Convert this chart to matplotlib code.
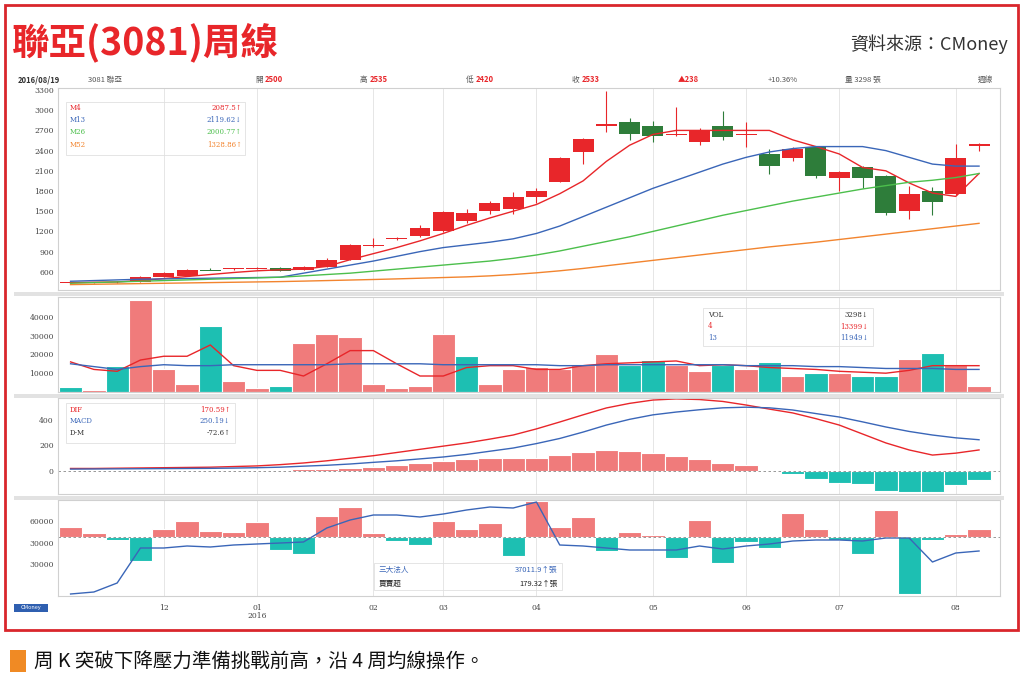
import numpy as np
import matplotlib
matplotlib.use("Agg")
import matplotlib.pyplot as plt
from matplotlib.patches import Rectangle

plt.rcParams['font.family'] = ['Noto Sans CJK TC', 'DejaVu Sans']

W, H = 1024, 683

# weekly candles (40 weeks)
opens = [440, 445, 450, 450, 525, 540, 630, 635, 645, 660, 630, 675, 780, 990, 1095, 1125, 1200, 1350, 1500,
         1530, 1710, 1935, 2385, 2760, 2820, 2760, 2640, 2535, 2760, 2640, 2355, 2295, 2460, 1995, 2160, 2025,
         1500, 1800, 1755, 2475]
closes = [445, 450, 455, 525, 585, 630, 625, 650, 650, 615, 675, 780, 1005, 995, 1100, 1245, 1485, 1470, 1620,
          1710, 1800, 2295, 2580, 2790, 2640, 2610, 2645, 2685, 2595, 2645, 2175, 2430, 2025, 2085, 1995, 1470,
          1755, 1635, 2295, 2505]
highs = [450, 455, 460, 540, 600, 645, 660, 660, 665, 670, 690, 810, 1020, 1095, 1120, 1290, 1500, 1530, 1650,
         1780, 1850, 2300, 2590, 3285, 2880, 2840, 3045, 2730, 2990, 2820, 2420, 2450, 2470, 2100, 2170, 2040,
         1880, 1860, 2500, 2510]
lows = [430, 435, 440, 445, 520, 535, 620, 625, 640, 610, 625, 670, 770, 975, 1080, 1110, 1190, 1320, 1460,
        1460, 1620, 1930, 2200, 2670, 2560, 2530, 2620, 2480, 2560, 2450, 2060, 2250, 2000, 1800, 1850, 1450,
        1390, 1450, 1740, 2400]

ma4 = [440, 445, 450, 470, 500, 530, 560, 590, 615, 630, 640, 680, 780, 870, 960, 1060, 1170, 1290, 1400,
       1500, 1600, 1760, 1950, 2240, 2480, 2640, 2700, 2700, 2700, 2700, 2700, 2560, 2460, 2350, 2150, 2100,
       1920, 1770, 1720, 2060]
ma13 = [460, 470, 480, 490, 495, 500, 505, 510, 515, 520, 580, 640, 700, 760, 830, 900, 960, 1000, 1040,
        1090, 1170, 1280, 1420, 1560, 1700, 1840, 1960, 2080, 2200, 2300, 2380, 2430, 2460, 2460, 2460, 2400,
        2300, 2200, 2170, 2170]
ma26 = [430, 440, 450, 460, 470, 480, 490, 500, 510, 520, 540, 560, 580, 610, 640, 670, 700, 730, 760,
        800, 850, 910, 980, 1050, 1120, 1200, 1280, 1360, 1440, 1510, 1580, 1650, 1710, 1770, 1830, 1880,
        1930, 1960, 2000, 2060]
ma52 = [410, 415, 420, 425, 430, 435, 440, 445, 450, 455, 462, 470, 478, 486, 495, 505, 515, 525, 540,
        560, 585, 615, 650, 690, 730, 770, 810, 850, 890, 930, 970, 1005, 1040, 1080, 1120, 1160, 1200,
        1240, 1280, 1320]

volume = [2700, 1000, 14000, 49000, 12000, 4000, 35000, 6000, 2000, 3000, 26000, 31000, 29000, 4000, 2000,
          3000, 31000, 19000, 4000, 12000, 13500, 12000, 14500, 20000, 14500, 17000, 14500, 11000, 14500,
          12000, 16000, 8500, 10000, 10000, 8500, 8500, 17500, 20500, 14500, 3000]
vol_up = [0, 1, 0, 1, 1, 1, 0, 1, 1, 0, 1, 1, 1, 1, 1, 1, 1, 0, 1, 1, 1, 1, 1, 1, 0, 0, 1, 1, 0, 1, 0, 1,
          0, 1, 0, 0, 1, 0, 1, 1]
vol_ma4 = [16000, 12000, 11000, 17000, 19000, 19000, 25000, 14000, 11500, 11500, 8500, 15000, 22000, 22000,
           15000, 8500, 8500, 13000, 14000, 14000, 12000, 12000, 14000, 15000, 15500, 16000, 16500, 14000,
           14500, 14000, 13000, 12500, 12000, 11000, 10500, 10000, 11500, 14000, 14000, 14000]
vol_ma13 = [15000, 13500, 12000, 13500, 14500, 14000, 14000, 14500, 14500, 14500, 14500, 14500, 15000, 15000,
            15000, 15000, 14500, 14500, 14500, 14500, 14500, 14000, 14000, 14500, 14500, 14500, 14500, 14500,
            14500, 14000, 14000, 14000, 13500, 13500, 13000, 12500, 12500, 12500, 12000, 12000]

dif = [20, 20, 22, 24, 26, 28, 30, 35, 40, 50, 63, 80, 100, 120, 145, 170, 195, 220, 250, 282, 330, 384,
       440, 494, 530, 556, 565, 560, 545, 517, 485, 455, 410, 360, 290, 220, 165, 125, 140, 165]
macd = [15, 16, 17, 18, 19, 20, 21, 23, 26, 30, 38, 45, 55, 68, 80, 95, 110, 130, 155, 180, 215, 255, 305,
        360, 405, 440, 462, 480, 495, 500, 495, 478, 450, 423, 385, 345, 310, 282, 260, 245]
dm = [-2, -2, -1, 1, 3, 5, 5, 6, 7, 8, 12, 14, 22, 35, 50, 62, 80, 92, 100, 103, 105, 128, 150, 168, 160,
      140, 118, 97, 65, 44, -3, -26, -65, -91, -105, -155, -165, -165, -112, -70]

netbuy = [10000, 4000, -3000, -24000, 8000, 16000, 6000, 5000, 15000, -13000, -17000, 21000, 30000, 4000,
          -4000, -8000, 16000, 8000, 14000, -19000, 36000, 10000, 20000, -14000, 5000, 2000, -21000, 17000,
          -26000, -5000, -11000, 24000, 8000, -3000, -17000, 27000, -57000, -3000, 3000, 8000]
inst = [-57000, -55000, -46000, -11000, -11000, -9000, -10000, -8000, -7000, -6000, -5000, 9000, 17000,
        22000, 22000, 20000, 23000, 27000, 30000, 29000, 35000, -8000, -9000, -11000, -13000, -13000, -13000,
        -9000, -12000, -9000, -7000, -4000, -3000, -3000, -4000, -1000, -1000, -25000, -16000, -14000]

month_pos = [4, 8, 13, 16, 20, 25, 29, 33, 38]
month_lab = ['12', '01\n2016', '02', '03', '04', '05', '06', '07', '08']

RED = '#e8262a'
GREEN = '#2e7d3a'
BAR_R = '#f07b7b'
BAR_T = '#1dbfb2'
BLUE = '#3a66b8'
LGREEN = '#4cbf4c'
ORANGE = '#f2842e'

fig = plt.figure(figsize=(W / 100, H / 100), dpi=100)


def rect(x0, y0, x1, y1):
    return [x0 / W, 1 - y1 / H, (x1 - x0) / W, (y1 - y0) / H]


def ftext(x, y, s, **kw):
    fig.text(x / W, 1 - y / H, s, **kw)


# outer frame
fig.patches.append(Rectangle((5 / W, 1 - 630 / H), 1013 / W, 625 / H, transform=fig.transFigure,
                             fill=False, edgecolor='#d9262c', linewidth=2))
# gray separators
for yy in [292, 394, 496]:
    fig.patches.append(Rectangle((14 / W, 1 - (yy + 4) / H), 990 / W, 4 / H, transform=fig.transFigure,
                                 facecolor='#e2e2e2', edgecolor='none'))

ftext(12, 42, '聯亞(3081)周線', fontsize=27, color=RED, fontweight='bold', va='center')
ftext(1008, 44, '資料來源：CMoney', fontsize=13, color='#333333', ha='right', va='center')

hdr = [(18, '2016/08/19', '#333333', None), (88, '3081 聯亞', '#555555', None),
       (255, '開', '#555555', '2500'), (360, '高', '#555555', '2535'), (466, '低', '#555555', '2420'),
       (572, '收', '#555555', '2533'), (678, '', '', '▲238'), (768, '+10.36%', '#555555', None),
       (845, '量 3298 張', '#555555', None), (978, '週線', '#555555', None)]
for x, a, c, b in hdr:
    if a:
        ftext(x, 80, a, fontsize=5.5, color=c, va='center', fontweight='bold' if x == 18 else 'normal')
    if b:
        ftext(x + (10 if a else 0), 80, b, fontsize=5.5, color=RED, va='center', fontweight='bold')

xs = np.arange(len(closes))
XL = (-0.5 - 0.04, 39.5 + 0.4)


def style(ax, yt, yl):
    ax.set_xlim(*XL)
    ax.set_yticks(yt)
    ax.set_yticklabels(yl, fontsize=5.5, color='#444444', family='DejaVu Serif')
    ax.tick_params(axis='y', length=0, pad=3)
    ax.set_xticks(month_pos)
    ax.set_xticklabels([])
    ax.tick_params(axis='x', length=0)
    ax.grid(axis='x', color='#e6e6e6', linewidth=0.7)
    ax.set_axisbelow(True)
    for s in ax.spines.values():
        s.set_color('#d0d0d0')
        s.set_linewidth(0.8)


# price panel
ax1 = fig.add_axes(rect(58, 88, 1000, 290))
for i in xs:
    up = closes[i] >= opens[i]
    c = RED if up else GREEN
    ax1.vlines(i, lows[i], highs[i], color=c, linewidth=0.8)
    lo, hi = min(opens[i], closes[i]), max(opens[i], closes[i])
    ax1.bar(i, max(hi - lo, 12), bottom=lo if hi - lo >= 12 else lo - 6, width=0.9, color=c)
ax1.plot(xs, ma4, color=RED, lw=1)
ax1.plot(xs, ma13, color=BLUE, lw=1)
ax1.plot(xs, ma26, color=LGREEN, lw=1)
ax1.plot(xs, ma52, color=ORANGE, lw=1)
ax1.set_ylim(330, 3330)
pt = list(range(600, 3301, 300))
style(ax1, pt, [str(v) for v in pt])
ax1.add_patch(Rectangle((0.008, 0.67), 0.19, 0.26, transform=ax1.transAxes, fill=False,
                        edgecolor='#e0e0e0', lw=0.6))
for k, (n, v, c) in enumerate([('M4', '2087.5↑', RED), ('M13', '2119.62↓', BLUE),
                               ('M26', '2000.77↑', LGREEN), ('M52', '1328.86↑', ORANGE)]):
    yy = 0.90 - k * 0.06
    ax1.text(0.012, yy, n, transform=ax1.transAxes, fontsize=5, color=c, va='center', family='DejaVu Serif')
    ax1.text(0.195, yy, v, transform=ax1.transAxes, fontsize=5, color=c, va='center', ha='right',
             family='DejaVu Serif')

bar_kw = dict(width=1.0, edgecolor='white', linewidth=0.8)

# volume panel
ax2 = fig.add_axes(rect(58, 297, 1000, 392))
ax2.bar(xs, volume, color=[BAR_R if u else BAR_T for u in vol_up], **bar_kw)
ax2.plot(xs, vol_ma4, color=RED, lw=1)
ax2.plot(xs, vol_ma13, color=BLUE, lw=1)
ax2.set_ylim(0, 50500)
style(ax2, [10000, 20000, 30000, 40000], ['10000', '20000', '30000', '40000'])
ax2.add_patch(Rectangle((0.685, 0.48), 0.18, 0.4, transform=ax2.transAxes, fill=False,
                        edgecolor='#e0e0e0', lw=0.6))
for k, (n, v, c) in enumerate([('VOL', '3298↓', '#333333'), ('4', '13399↓', RED), ('13', '11949↓', BLUE)]):
    yy = 0.81 - k * 0.12
    ax2.text(0.69, yy, n, transform=ax2.transAxes, fontsize=5, color=c, va='center', family='DejaVu Serif')
    ax2.text(0.86, yy, v, transform=ax2.transAxes, fontsize=5, color=c, va='center', ha='right',
             family='DejaVu Serif')

# MACD panel
ax3 = fig.add_axes(rect(58, 398, 1000, 494))
ax3.bar(xs, dm, color=[BAR_R if v >= 0 else BAR_T for v in dm], **bar_kw)
ax3.plot(xs, dif, color=RED, lw=1)
ax3.plot(xs, macd, color=BLUE, lw=1)
ax3.axhline(0, color='#888888', lw=0.6, ls=(0, (3, 3)))
ax3.set_ylim(-180, 572)
style(ax3, [0, 200, 400], ['0', '200', '400'])
ax3.add_patch(Rectangle((0.008, 0.53), 0.18, 0.42, transform=ax3.transAxes, fill=False,
                        edgecolor='#e0e0e0', lw=0.6))
for k, (n, v, c) in enumerate([('DIF', '170.59↑', RED), ('MACD', '250.19↓', BLUE), ('D-M', '-72.6↑', '#333333')]):
    yy = 0.88 - k * 0.12
    ax3.text(0.012, yy, n, transform=ax3.transAxes, fontsize=5, color=c, va='center', family='DejaVu Serif')
    ax3.text(0.183, yy, v, transform=ax3.transAxes, fontsize=5, color=c, va='center', ha='right',
             family='DejaVu Serif')

# institutional panel
ax4 = fig.add_axes(rect(58, 500, 1000, 596))
ax4.bar(xs, netbuy, color=[BAR_R if v >= 0 else BAR_T for v in netbuy], **bar_kw)
ax4.plot(xs, inst, color=BLUE, lw=1)
ax4.axhline(0, color='#888888', lw=0.6, ls=(0, (3, 3)))
ax4.set_ylim(-59000, 37000)
style(ax4, [-27000, -6000, 16000], ['30000', '30000', '60000'])
ax4.set_xticklabels(month_lab, fontsize=5.5, color='#444444', family='DejaVu Serif', linespacing=0.9)
ax4.tick_params(axis='x', pad=6)
ax4.add_patch(Rectangle((0.335, 0.06), 0.2, 0.28, transform=ax4.transAxes, fill=False,
                        edgecolor='#e0e0e0', lw=0.6))
ax4.text(0.34, 0.27, '三大法人', transform=ax4.transAxes, fontsize=5.5, color=BLUE, va='center')
ax4.text(0.53, 0.27, '37011.9↑張', transform=ax4.transAxes, fontsize=5.5, color=BLUE, va='center', ha='right')
ax4.text(0.34, 0.13, '買賣超', transform=ax4.transAxes, fontsize=5.5, color='#222222', va='center')
ax4.text(0.53, 0.13, '179.32↑張', transform=ax4.transAxes, fontsize=5.5, color='#222222', va='center', ha='right')

# CMoney tag
fig.patches.append(Rectangle((14 / W, 1 - 612 / H), 34 / W, 8 / H, transform=fig.transFigure,
                             facecolor='#2f5fb0', edgecolor='none'))
ftext(31, 608, 'CMoney', fontsize=4, color='white', ha='center', va='center')

# caption
fig.patches.append(Rectangle((10 / W, 1 - 672 / H), 16 / W, 22 / H, transform=fig.transFigure,
                             facecolor='#f08a24', edgecolor='none'))
ftext(34, 661, '周 K 突破下降壓力準備挑戰前高，沿 4 周均線操作。', fontsize=14, color='#111111', va='center')

fig.savefig('out.png', dpi=100)
